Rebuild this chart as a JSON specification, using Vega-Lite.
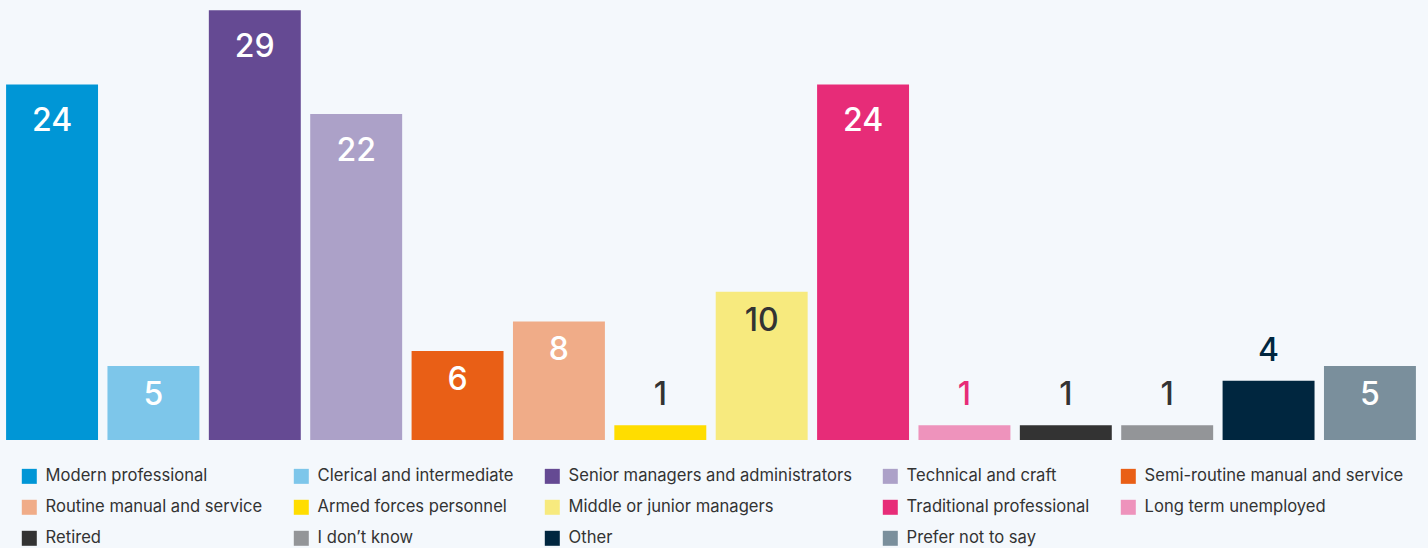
{
  "$schema": "https://vega.github.io/schema/vega-lite/v6.json",
  "width": 1422,
  "height": 440,
  "autosize": {"type": "none"},
  "padding": {"left": 0, "top": 0, "right": 6, "bottom": 108},
  "background": "#f4f8fc",
  "config": {
    "view": {"stroke": null},
    "font": "Inter"
  },
  "data": {
    "values": [
      {"category": "Modern professional", "value": 24},
      {"category": "Clerical and intermediate", "value": 5},
      {"category": "Senior managers and administrators", "value": 29},
      {"category": "Technical and craft", "value": 22},
      {"category": "Semi-routine manual and service", "value": 6},
      {"category": "Routine manual and service", "value": 8},
      {"category": "Armed forces personnel", "value": 1},
      {"category": "Middle or junior managers", "value": 10},
      {"category": "Traditional professional", "value": 24},
      {"category": "Long term unemployed", "value": 1},
      {"category": "Retired", "value": 1},
      {"category": "I don’t know", "value": 1},
      {"category": "Other", "value": 4},
      {"category": "Prefer not to say", "value": 5}
    ]
  },
  "encoding": {
    "x": {
      "field": "category", "type": "nominal", "sort": null, "axis": null,
      "scale": {"paddingInner": 0.093, "paddingOuter": 0.06}
    },
    "y": {
      "field": "value", "type": "quantitative", "axis": null,
      "scale": {"domain": [0, 29.7], "nice": false, "zero": true}
    }
  },
  "layer": [
    {
      "mark": {"type": "bar"},
      "encoding": {
        "color": {
          "field": "category", "type": "nominal", "sort": null,
          "scale": {
            "domain": ["Modern professional", "Clerical and intermediate", "Senior managers and administrators", "Technical and craft", "Semi-routine manual and service", "Routine manual and service", "Armed forces personnel", "Middle or junior managers", "Traditional professional", "Long term unemployed", "Retired", "I don’t know", "Other", "Prefer not to say"],
            "range": ["#0096d6", "#7dc6ea", "#654a93", "#aca1c8", "#e95f16", "#f0ac88", "#ffdd00", "#f7ea7e", "#e72c78", "#ee93bc", "#333333", "#939598", "#00263f", "#7a8f9c"]
          },
          "legend": {
            "orient": "none",
            "legendX": 21,
            "legendY": 468,
            "direction": "horizontal",
            "columns": 5,
            "gridAlign": "each",
            "columnPadding": 30,
            "rowPadding": 14,
            "title": null,
            "symbolType": "square",
            "symbolSize": 225,
            "symbolStrokeWidth": 0,
            "symbolOpacity": 1,
            "labelFont": "Inter",
            "labelFontSize": 16.6,
            "labelColor": "#333333",
            "labelOffset": 8,
            "labelLimit": 400
          }
        }
      }
    },
    {
      "transform": [{"filter": "datum.value >= 20"}],
      "mark": {"type": "text", "baseline": "middle", "align": "center", "dy": 37, "fontSize": 32, "fontWeight": 500, "font": "Inter"},
      "encoding": {
        "text": {"field": "value", "type": "quantitative"},
        "color": {"value": "#ffffff"}
      }
    },
    {
      "transform": [{"filter": "datum.value >= 5 && datum.value < 20"}],
      "mark": {"type": "text", "baseline": "middle", "align": "center", "dy": 29, "fontSize": 32, "fontWeight": 500, "font": "Inter"},
      "encoding": {
        "text": {"field": "value", "type": "quantitative"},
        "color": {
          "field": "category", "type": "nominal", "legend": null,
          "scale": {
            "domain": ["Clerical and intermediate", "Semi-routine manual and service", "Routine manual and service", "Middle or junior managers", "Prefer not to say"],
            "range": ["#ffffff", "#ffffff", "#ffffff", "#333333", "#ffffff"]
          }
        }
      }
    },
    {
      "transform": [{"filter": "datum.value < 5"}],
      "mark": {"type": "text", "baseline": "middle", "align": "center", "dy": -30, "fontSize": 32, "fontWeight": 500, "font": "Inter"},
      "encoding": {
        "text": {"field": "value", "type": "quantitative"},
        "color": {
          "field": "category", "type": "nominal", "legend": null,
          "scale": {
            "domain": ["Armed forces personnel", "Long term unemployed", "Retired", "I don’t know", "Other"],
            "range": ["#333333", "#e72c78", "#333333", "#333333", "#00263f"]
          }
        }
      }
    }
  ],
  "resolve": {"scale": {"color": "independent"}}
}
